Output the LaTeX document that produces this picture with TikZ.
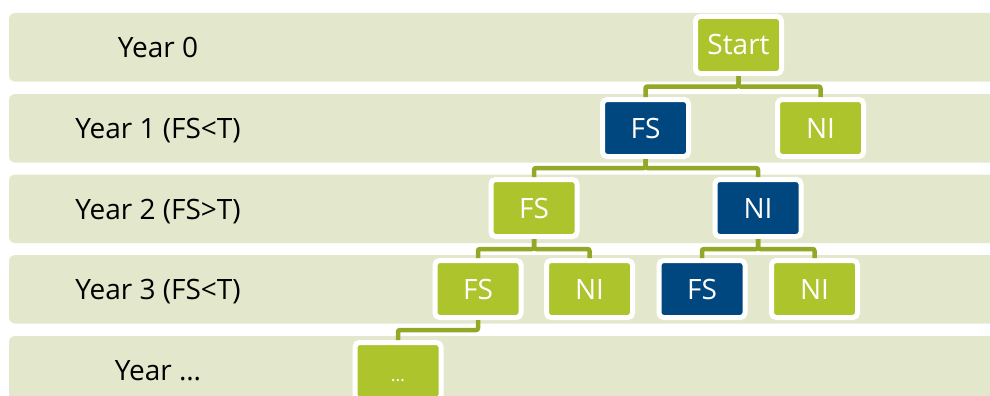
\documentclass[tikz,border=0pt]{standalone}
\usepackage{fontspec}
\setmainfont{Open Sans}
\usetikzlibrary{positioning, calc}
\definecolor{bandgreen}{HTML}{E3E8CD}
\definecolor{leafgreen}{HTML}{ADC42C}
\definecolor{deepblue}{HTML}{00467F}
\definecolor{stemgreen}{HTML}{94A726}

\begin{document}
\begin{tikzpicture}
[x=1pt, y=-1pt,
 band/.style={fill=bandgreen, rounded corners=6pt},
 yr/.style={anchor=base, font=\fontsize{28}{30}\selectfont},
 grn/.style={rectangle, rounded corners=4.5pt, fill=leafgreen, draw=white, line width=5pt,
   minimum width=86pt, minimum height=57pt, inner sep=0pt, text=white,
   text height=20pt, text depth=0pt, font=\fontsize{28}{30}\selectfont},
 blu/.style={grn, fill=deepblue},
 conn/.style={draw=stemgreen, line width=4.5pt, rounded corners=2pt}]
\useasboundingbox (0,0) rectangle (990,396);
\clip (0,0) rectangle (990,396);
% year bands
\fill[band] (9,13) rectangle (1010,81.5);
\fill[band] (9,94) rectangle (1010,162.5);
\fill[band] (9,174.5) rectangle (1010,243);
\fill[band] (9,255) rectangle (1010,323.5);
\fill[band] (9,336) rectangle (1010,404);
\node[yr] (y0) at (158, 57.5) {Year 0};
\node[yr] (y1) at (158, 138.5) {Year 1 (FS<T)};
\node[yr] (y2) at (158, 219) {Year 2 (FS>T)};
\node[yr] (y3) at (158, 299.5) {Year 3 (FS<T)};
\node[yr] (y4) at (158, 380.5) {Year …};
% tree
\node[grn] (start) at (738.5, 45) {Start};
\node[blu] (fs1) at (645.5, 128) {FS};
\node[grn] (ni1) at (820.5, 128) {NI};
\node[grn] (fs2) at (534, 208) {FS};
\node[blu] (ni2) at (758, 208) {NI};
\node[grn] (fs3) at (478, 289) {FS};
\node[grn] (ni3) at (589.5, 289) {NI};
\node[blu] (fs4) at (702, 289) {FS};
\node[grn] (ni4) at (814.5, 289) {NI};
\node[grn, font=\fontsize{18}{20}\selectfont] (more) at (398, 371) {…};
\draw[conn] (start.south) -- ++(0,10.5) -| (fs1.north);
\draw[conn] (start.south) -- ++(0,10.5) -| (ni1.north);
\draw[conn] (fs1.south) -- ++(0,9) -| (fs2.north);
\draw[conn] (fs1.south) -- ++(0,9) -| (ni2.north);
\draw[conn] (fs2.south) -- ++(0,10) -| (fs3.north);
\draw[conn] (fs2.south) -- ++(0,10) -| (ni3.north);
\draw[conn] (ni2.south) -- ++(0,10) -| (fs4.north);
\draw[conn] (ni2.south) -- ++(0,10) -| (ni4.north);
\draw[conn] (fs3.south) -- ++(0,10) -| (more.north);
\end{tikzpicture}
\end{document}
